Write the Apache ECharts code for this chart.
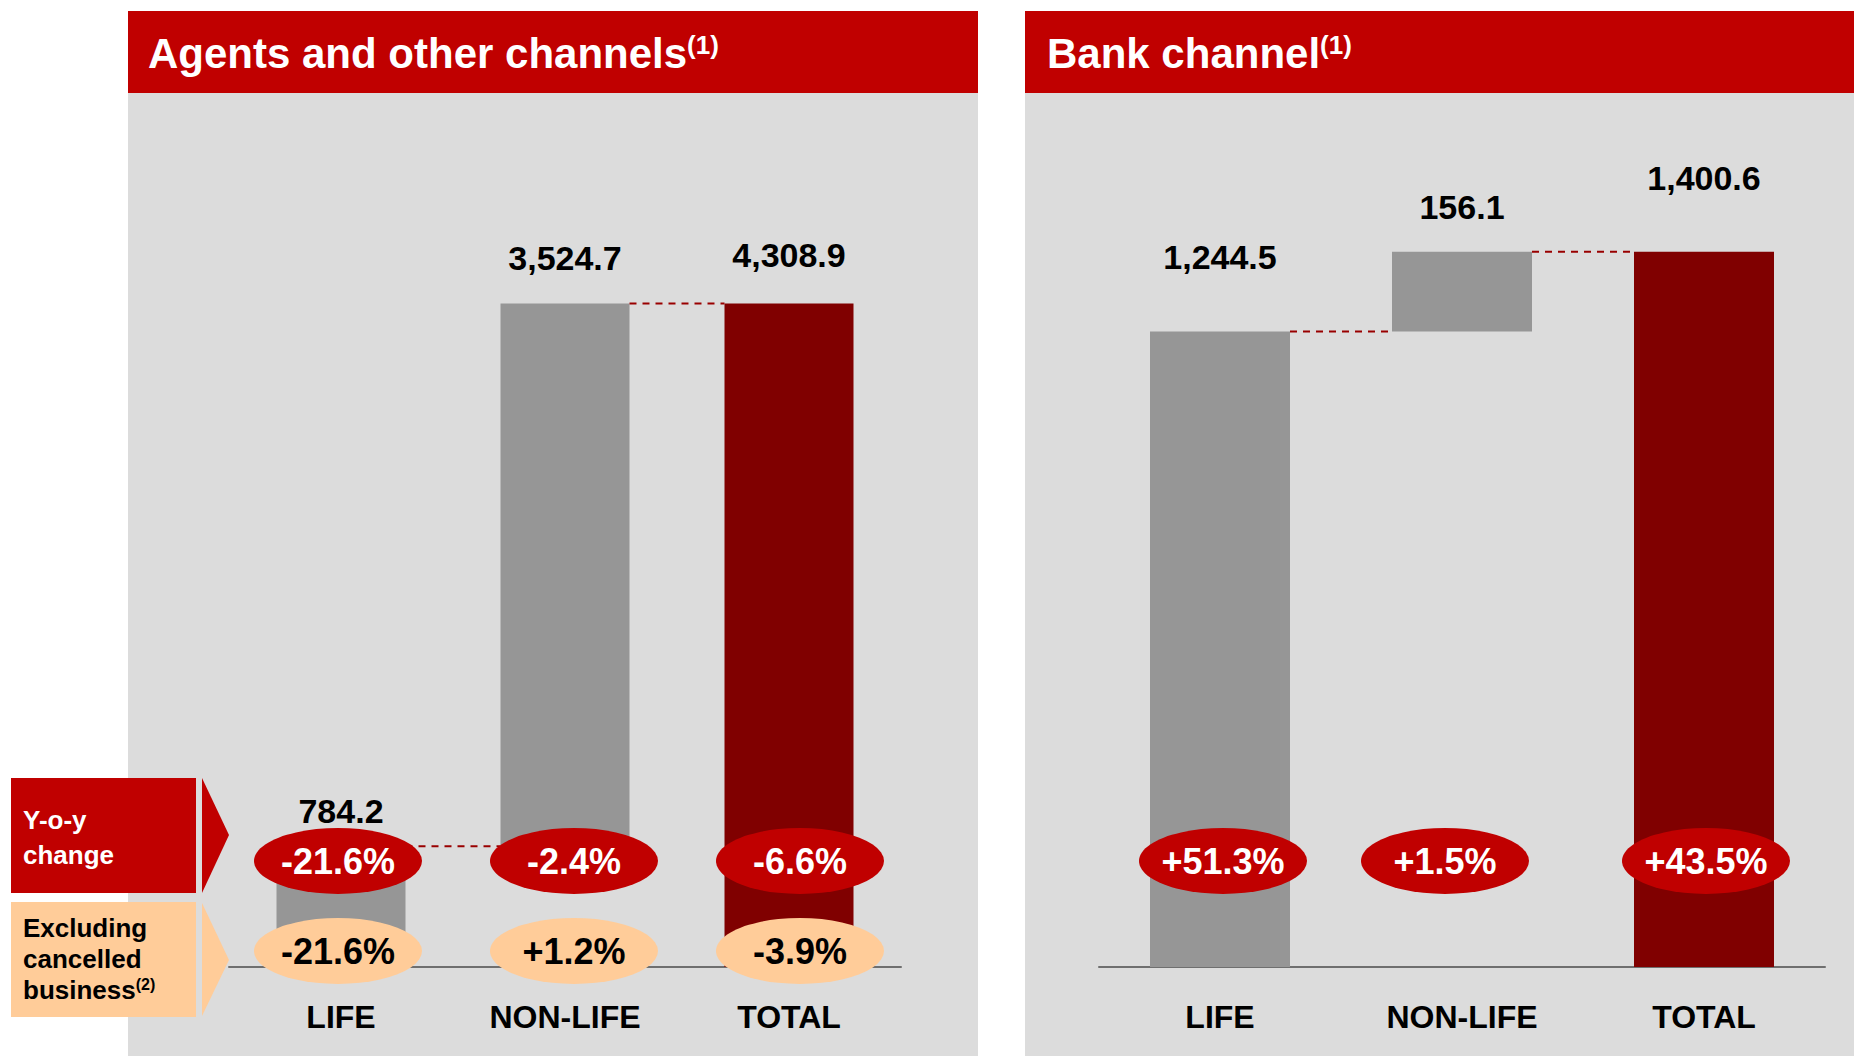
<!DOCTYPE html>
<html>
<head>
<meta charset="utf-8">
<script src="https://cdn.jsdelivr.net/npm/echarts@6/dist/echarts.min.js"></script>
<style>
html, body { margin: 0; padding: 0; background: #fff; }
#chart { width: 1854px; height: 1056px; }
</style>
</head>
<body>
<div id="chart"></div>
<script>
// data
const categories = ['LIFE', 'NON-LIFE', 'TOTAL']
const agentsValues = [784.2, 3524.7, 4308.9]
const bankValues = [1244.5, 156.1, 1400.6]
const agentsYoy = ['-21.6%', '-2.4%', '-6.6%']
const agentsExCancelled = ['-21.6%', '+1.2%', '-3.9%']
const bankYoy = ['+51.3%', '+1.5%', '+43.5%']

// layout
const FONT = 'Liberation Sans, Arial, sans-serif'
const RED = '#C00000'
const DARK = '#800000'
const GREY = '#969696'
const PEACH = '#FFCC99'
const PANEL = '#DCDCDC'
const leftGrid = { left: 229, top: 197, width: 672, height: 770 }
const rightGrid = { left: 1099, top: 201, width: 726, height: 766 }
const leftBarWidth = 129
const rightBarWidth = 140
const agentsLabelGap = [18, 28, 31]
const bankLabelGap = [57, 28, 57]
const agentsNudge = [-3, 9, 11]
const bankNudge = [3, -17, 2]
const yoyRow = 106
const exRow = 16

var myChart = echarts.init(document.getElementById('chart'), null, { renderer: 'svg' })

// waterfall: invisible base under the middle bar
function baseOf (values) {
  return [0, values[0], 0]
}

function valueBars (values, gaps, gridIdx, barWidth) {
  return {
    type: 'bar',
    stack: 'w' + gridIdx,
    xAxisIndex: gridIdx,
    yAxisIndex: gridIdx * 2,
    barWidth: barWidth,
    data: values.map(function (v, i) {
      return {
        value: v,
        itemStyle: { color: i === 2 ? DARK : GREY },
        label: { distance: gaps[i] }
      }
    }),
    label: {
      show: true,
      position: 'top',
      fontFamily: FONT,
      fontSize: 34,
      fontWeight: 'bold',
      color: '#000',
      formatter: function (p) {
        return p.value.toLocaleString('en-US', { minimumFractionDigits: 1 })
      }
    },
    silent: true,
    z: 2
  }
}

function baseBars (values, gridIdx, barWidth) {
  return {
    type: 'bar',
    stack: 'w' + gridIdx,
    xAxisIndex: gridIdx,
    yAxisIndex: gridIdx * 2,
    barWidth: barWidth,
    data: baseOf(values),
    itemStyle: { color: 'transparent' },
    silent: true
  }
}

function ellipses (texts, nudge, row, gridIdx, fill, textColor) {
  return {
    type: 'scatter',
    xAxisIndex: gridIdx,
    yAxisIndex: gridIdx * 2 + 1,
    symbol: 'circle',
    symbolSize: [168, 66],
    itemStyle: { color: fill, opacity: 1 },
    data: texts.map(function (t, i) {
      return { value: [i, row], symbolOffset: [nudge[i], 0] }
    }),
    label: {
      show: true,
      position: 'inside',
      fontFamily: FONT,
      fontSize: 36,
      fontWeight: 'bold',
      color: textColor,
      formatter: function (p) { return texts[p.dataIndex] }
    },
    silent: true,
    z: 5
  }
}

function xAxisFor (gridIdx) {
  return {
    type: 'category',
    gridIndex: gridIdx,
    data: categories,
    axisLine: { show: true, lineStyle: { color: '#6F6F6F', width: 2 } },
    axisTick: { show: false },
    axisLabel: { fontFamily: FONT, fontSize: 32, fontWeight: 'bold', color: '#000', margin: 34 }
  }
}

const titleRich = {
  t: { fontFamily: FONT, fontSize: 42, fontWeight: 'bold', color: '#fff', lineHeight: 50, verticalAlign: 'top' },
  s: { fontFamily: FONT, fontSize: 26, fontWeight: 'bold', color: '#fff', lineHeight: 38, verticalAlign: 'top' }
}

myChart.setOption({
  animation: false,
  backgroundColor: '#fff',
  title: [
    { text: '{t|Agents and other channels}{s|(1)}', left: 148, top: 32, padding: 0, textStyle: { rich: titleRich } },
    { text: '{t|Bank channel}{s|(1)}', left: 1047, top: 32, padding: 0, textStyle: { rich: titleRich } }
  ],
  grid: [
    Object.assign({}, leftGrid),
    Object.assign({}, rightGrid)
  ],
  xAxis: [xAxisFor(0), xAxisFor(1)],
  yAxis: [
    { type: 'value', gridIndex: 0, min: 0, max: 5000, show: false },
    { type: 'value', gridIndex: 0, min: 0, max: leftGrid.height, show: false },
    { type: 'value', gridIndex: 1, min: 0, max: 1500, show: false },
    { type: 'value', gridIndex: 1, min: 0, max: rightGrid.height, show: false }
  ],
  series: [
    baseBars(agentsValues, 0, leftBarWidth),
    valueBars(agentsValues, agentsLabelGap, 0, leftBarWidth),
    baseBars(bankValues, 1, rightBarWidth),
    valueBars(bankValues, bankLabelGap, 1, rightBarWidth),
    ellipses(agentsYoy, agentsNudge, yoyRow, 0, RED, '#fff'),
    ellipses(agentsExCancelled, agentsNudge, exRow, 0, PEACH, '#000'),
    ellipses(bankYoy, bankNudge, yoyRow, 1, RED, '#fff')
  ]
})

// panels, side tags and dashed connectors
function connectors (values, seriesIndex, barWidth) {
  const steps = [values[0], values[0] + values[1]]
  return steps.map(function (v, i) {
    const a = myChart.convertToPixel({ seriesIndex: seriesIndex }, [i, v])
    const b = myChart.convertToPixel({ seriesIndex: seriesIndex }, [i + 1, v])
    return {
      type: 'line',
      z: 3,
      silent: true,
      shape: { x1: a[0] + barWidth / 2, y1: a[1], x2: b[0] - barWidth / 2, y2: b[1] },
      style: { stroke: '#990000', lineWidth: 2, lineDash: [7, 6] }
    }
  })
}

const graphics = [
  { type: 'rect', z: -10, silent: true, shape: { x: 128, y: 93, width: 850, height: 963 }, style: { fill: PANEL } },
  { type: 'rect', z: -10, silent: true, shape: { x: 1025, y: 93, width: 829, height: 963 }, style: { fill: PANEL } },
  { type: 'rect', z: -10, silent: true, shape: { x: 128, y: 11, width: 850, height: 82 }, style: { fill: RED } },
  { type: 'rect', z: -10, silent: true, shape: { x: 1025, y: 11, width: 829, height: 82 }, style: { fill: RED } },
  { type: 'rect', z: 10, silent: true, shape: { x: 11, y: 778, width: 185, height: 115 }, style: { fill: RED } },
  { type: 'polygon', z: 10, silent: true, shape: { points: [[202, 778], [229, 835], [202, 893]] }, style: { fill: RED } },
  { type: 'rect', z: 10, silent: true, shape: { x: 11, y: 902, width: 185, height: 115 }, style: { fill: PEACH } },
  { type: 'polygon', z: 10, silent: true, shape: { points: [[202, 903], [229, 960], [202, 1016]] }, style: { fill: PEACH } },
  {
    type: 'text', z: 11, silent: true, x: 23, y: 837,
    style: { text: 'Y-o-y\nchange', fill: '#fff', fontFamily: FONT, fontSize: 26, fontWeight: 'bold', lineHeight: 35, verticalAlign: 'middle' }
  },
  {
    type: 'text', z: 11, silent: true, x: 23, y: 961,
    style: {
      text: '{b|Excluding}\n{b|cancelled}\n{b|business}{s|(2)}',
      verticalAlign: 'middle',
      rich: {
        b: { fill: '#000', fontFamily: FONT, fontSize: 26, fontWeight: 'bold', lineHeight: 31, verticalAlign: 'top' },
        s: { fill: '#000', fontFamily: FONT, fontSize: 16, fontWeight: 'bold', lineHeight: 22, verticalAlign: 'top' }
      }
    }
  }
].concat(connectors(agentsValues, 1, leftBarWidth), connectors(bankValues, 3, rightBarWidth))

myChart.setOption({ graphic: graphics })
</script>
</body>
</html>
